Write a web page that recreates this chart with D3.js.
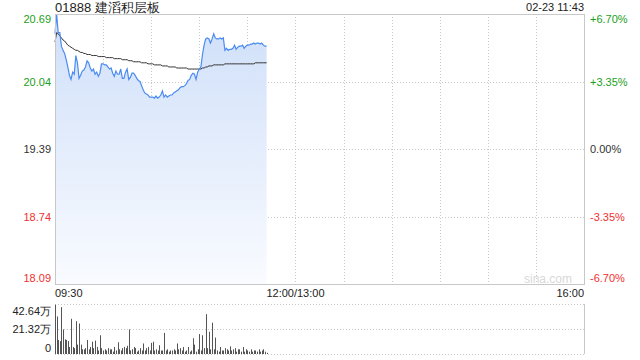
<!DOCTYPE html>
<html>
<head>
<meta charset="utf-8">
<script src="https://cdn.jsdelivr.net/npm/d3@7"></script>
<style>
  body { margin: 0; background: #fff; }
  svg text { font-family: "Liberation Sans", Arial, sans-serif; }
</style>
</head>
<body>
<div id="chartArea"></div>
<script>
// quote info
let stockTitle = "01888 建滔积层板";
let stampText = "02-23 11:43";
let prevClose = 19.39;

// price axis ticks
let priceTicks = [20.69, 20.04, 19.39, 18.74, 18.09];
let priceLabels = ["20.69", "20.04", "19.39", "18.74", "18.09"];
let pctLabels = ["+6.70%", "+3.35%", "0.00%", "-3.35%", "-6.70%"];

// time axis (minutes since 09:30, lunch break folded out)
let timeTicks = [0, 150, 330];
let timeLabels = ["09:30", "12:00/13:00", "16:00"];

// volume axis (in 万 shares)
let volTicks = [42.64, 21.32, 0];
let volLabels = ["42.64万", "21.32万", "0"];

// one value per minute from 09:30
let prices = [
    20.50, 20.69, 20.51, 20.51, 20.38, 20.34, 20.31, 20.25, 20.18, 20.10,
    20.06, 20.13, 20.11, 20.29, 20.22, 20.07, 20.10, 20.14, 20.15, 20.18,
    20.24, 20.22, 20.17, 20.14, 20.16, 20.11, 20.13, 20.09, 20.12, 20.21,
    20.21, 20.20, 20.20, 20.18, 20.16, 20.17, 20.12, 20.09, 20.14, 20.11,
    20.11, 20.16, 20.07, 20.07, 20.13, 20.16, 20.06, 20.08, 20.12, 20.12,
    20.10, 20.07, 20.05, 20.04, 20.00, 19.96, 19.93, 19.92, 19.91, 19.89,
    19.89, 19.89, 19.88, 19.90, 19.88, 19.89, 19.91, 19.95, 19.89, 19.91,
    19.89, 19.90, 19.91, 19.91, 19.93, 19.94, 19.95, 19.96, 19.98, 19.99,
    19.99, 20.00, 20.02, 20.05, 20.06, 20.10, 20.12, 20.11, 20.06, 20.13,
    20.16, 20.18, 20.30, 20.39, 20.45, 20.46, 20.45, 20.41, 20.45, 20.50,
    20.46, 20.45, 20.45, 20.46, 20.45, 20.46, 20.34, 20.36, 20.34, 20.35,
    20.35, 20.36, 20.39, 20.35, 20.37, 20.38, 20.38, 20.39, 20.36, 20.38,
    20.39, 20.39, 20.40, 20.40, 20.41, 20.40, 20.41, 20.41, 20.40, 20.41,
    20.39, 20.38, 20.38
];

let avgPrices = [
    20.42, 20.51, 20.50, 20.48, 20.46, 20.44, 20.43, 20.41, 20.39, 20.38,
    20.37, 20.36, 20.35, 20.34, 20.34, 20.33, 20.32, 20.32, 20.31, 20.31,
    20.30, 20.30, 20.30, 20.29, 20.29, 20.29, 20.29, 20.28, 20.28, 20.28,
    20.28, 20.28, 20.27, 20.27, 20.27, 20.27, 20.27, 20.26, 20.26, 20.26,
    20.26, 20.26, 20.25, 20.25, 20.25, 20.25, 20.24, 20.24, 20.24, 20.23,
    20.23, 20.23, 20.23, 20.23, 20.22, 20.22, 20.22, 20.22, 20.21, 20.21,
    20.21, 20.21, 20.20, 20.20, 20.20, 20.20, 20.20, 20.19, 20.19, 20.19,
    20.19, 20.18, 20.18, 20.18, 20.18, 20.18, 20.17, 20.17, 20.17, 20.17,
    20.17, 20.17, 20.17, 20.16, 20.16, 20.16, 20.16, 20.16, 20.16, 20.16,
    20.16, 20.16, 20.17, 20.17, 20.18, 20.18, 20.19, 20.19, 20.19, 20.20,
    20.20, 20.20, 20.20, 20.20, 20.20, 20.20, 20.21, 20.21, 20.21, 20.21,
    20.21, 20.21, 20.21, 20.21, 20.21, 20.21, 20.21, 20.21, 20.21, 20.21,
    20.21, 20.21, 20.21, 20.21, 20.21, 20.22, 20.22, 20.22, 20.22, 20.22,
    20.22, 20.22, 20.22
];

let volumes = [
    42, 32, 12, 11, 40, 21, 12.5, 12, 11, 6,
    30, 6, 5, 28, 8, 26, 8, 4, 4, 5,
    12, 4, 6, 10.5, 5, 11.4, 6, 3, 16, 5,
    3, 4, 3, 5, 4, 4, 2, 6, 3, 10,
    4, 3, 5, 6, 5, 7, 21, 3, 4, 6,
    5, 2, 3, 5, 3, 9, 3, 5, 6, 3,
    9.5, 10.5, 3, 4, 3, 7.5, 3, 3, 18, 3,
    4, 2, 3, 3, 4, 3, 9, 4, 5, 3,
    6, 2, 3, 6, 2, 3, 13.4, 8, 2, 4,
    17, 3, 16, 5, 34, 5, 19, 4, 26.7, 4,
    14, 3, 2, 6, 3, 3, 5, 4, 3, 6.5,
    3, 4, 5, 2, 4, 4, 2, 6, 2, 4,
    3, 2, 4, 2, 3, 3, 2, 4, 2, 3,
    4, 2, 1
];

let green = "#1ba01b", red = "#f03030", grid = "#c8c8c8";

let svg = d3.select("#chartArea")
    .append("svg")
        .attr("width", 640)
        .attr("height", 360);

let left = 55, right = 584;
let priceTop = 14, priceBottom = 284;
let volTop = 304, volBottom = 354;

let xScale = d3.scaleLinear().domain([0, 330]).range([left, right]);
let yScale = d3.scaleLinear().domain([18.09, 20.69]).range([priceBottom, priceTop]);
let vScale = d3.scaleLinear().domain([0, 42.64]).range([volBottom, volTop]);

// title + stamp
svg.append("text")
    .attr("x", left).attr("y", 12)
    .attr("font-size", 13).attr("fill", "#222")
    .text(stockTitle);
svg.append("text")
    .attr("x", right).attr("y", 11)
    .attr("text-anchor", "end")
    .attr("font-size", 11).attr("fill", "#222")
    .text(stampText);

// fill gradient
let grad = svg.append("defs").append("linearGradient")
    .attr("id", "fillGrad").attr("x1", 0).attr("y1", 0).attr("x2", 0).attr("y2", 1);
grad.append("stop").attr("offset", "0%").attr("stop-color", "#cfdff9");
grad.append("stop").attr("offset", "100%").attr("stop-color", "#f9fbff");

// price grid
let hGrid = priceTicks.slice(1, -1);
svg.append("g").selectAll("line").data(hGrid).join("line")
    .attr("x1", left).attr("x2", right)
    .attr("y1", d => Math.round(yScale(d)) + 0.5)
    .attr("y2", d => Math.round(yScale(d)) + 0.5)
    .attr("stroke", grid).attr("stroke-dasharray", "1,2");

let vGrid = d3.range(30, 330, 30);
svg.append("g").selectAll("line").data(vGrid).join("line")
    .attr("x1", d => Math.round(xScale(d)) + 0.5)
    .attr("x2", d => Math.round(xScale(d)) + 0.5)
    .attr("y1", priceTop).attr("y2", priceBottom)
    .attr("stroke", grid).attr("stroke-dasharray", "1,2");

// watermark
svg.append("text")
    .attr("x", 572).attr("y", 283)
    .attr("text-anchor", "end")
    .attr("font-size", 12).attr("fill", "#d8d8d8")
    .text("sina.com");

// area + lines
let area = d3.area()
    .x((d, i) => xScale(i))
    .y0(priceBottom)
    .y1(d => yScale(d));

svg.append("path")
    .attr("d", area(prices))
    .attr("fill", "url(#fillGrad)");

let line = d3.line()
    .x((d, i) => xScale(i))
    .y(d => yScale(d));

svg.append("path")
    .attr("d", line(avgPrices))
    .attr("fill", "none")
    .attr("stroke", "#333")
    .attr("stroke-width", 1);

svg.append("path")
    .attr("d", line(prices))
    .attr("fill", "none")
    .attr("stroke", "#4a8bf2")
    .attr("stroke-width", 1.2);

// price frame
svg.append("rect")
    .attr("x", left + 0.5).attr("y", priceTop + 0.5)
    .attr("width", right - left).attr("height", priceBottom - priceTop)
    .attr("fill", "none").attr("stroke", grid);

// price labels
function labelColor(i) {
    return i < 2 ? green : (i == 2 ? "#333" : red);
}
function labelY(d, i) {
    let y = yScale(d);
    if (i == 0) y += 5;
    if (i == priceTicks.length - 1) y -= 6;
    return y + 4;
}

svg.append("g").selectAll("text").data(priceTicks).join("text")
    .attr("x", left - 4)
    .attr("y", labelY)
    .attr("text-anchor", "end")
    .attr("font-size", 11)
    .attr("fill", (d, i) => labelColor(i))
    .text((d, i) => priceLabels[i]);

svg.append("g").selectAll("text").data(priceTicks).join("text")
    .attr("x", right + 6)
    .attr("y", labelY)
    .attr("font-size", 11)
    .attr("fill", (d, i) => labelColor(i))
    .text((d, i) => pctLabels[i]);

// time labels
svg.append("g").selectAll("text").data(timeTicks).join("text")
    .attr("x", d => xScale(d))
    .attr("y", 297)
    .attr("text-anchor", (d, i) => i == 0 ? "start" : (i == 1 ? "middle" : "end"))
    .attr("font-size", 11)
    .attr("fill", "#222")
    .text((d, i) => timeLabels[i]);

// volume grid
svg.append("g").selectAll("line").data(volTicks).join("line")
    .attr("x1", left).attr("x2", right)
    .attr("y1", d => Math.round(vScale(d)) + 0.5)
    .attr("y2", d => Math.round(vScale(d)) + 0.5)
    .attr("stroke", grid).attr("stroke-dasharray", "1,2");

svg.append("line")
    .attr("x1", right + 0.5).attr("x2", right + 0.5)
    .attr("y1", volTop).attr("y2", volBottom)
    .attr("stroke", grid);
svg.append("line")
    .attr("x1", left + 0.5).attr("x2", left + 0.5)
    .attr("y1", volTop).attr("y2", volBottom)
    .attr("stroke", grid);

// volume bars
svg.append("g").selectAll("rect").data(volumes).join("rect")
    .attr("x", (d, i) => Math.round(xScale(i)))
    .attr("y", d => vScale(d))
    .attr("width", 1)
    .attr("height", d => volBottom - vScale(d))
    .attr("fill", "#555");

// volume labels
svg.append("g").selectAll("text").data(volTicks).join("text")
    .attr("x", left - 4)
    .attr("y", (d, i) => vScale(d) + (i == 0 ? 11 : (i == 2 ? -2 : 4)))
    .attr("text-anchor", "end")
    .attr("font-size", 11)
    .attr("fill", "#222")
    .text((d, i) => volLabels[i]);
</script>
</body>
</html>
